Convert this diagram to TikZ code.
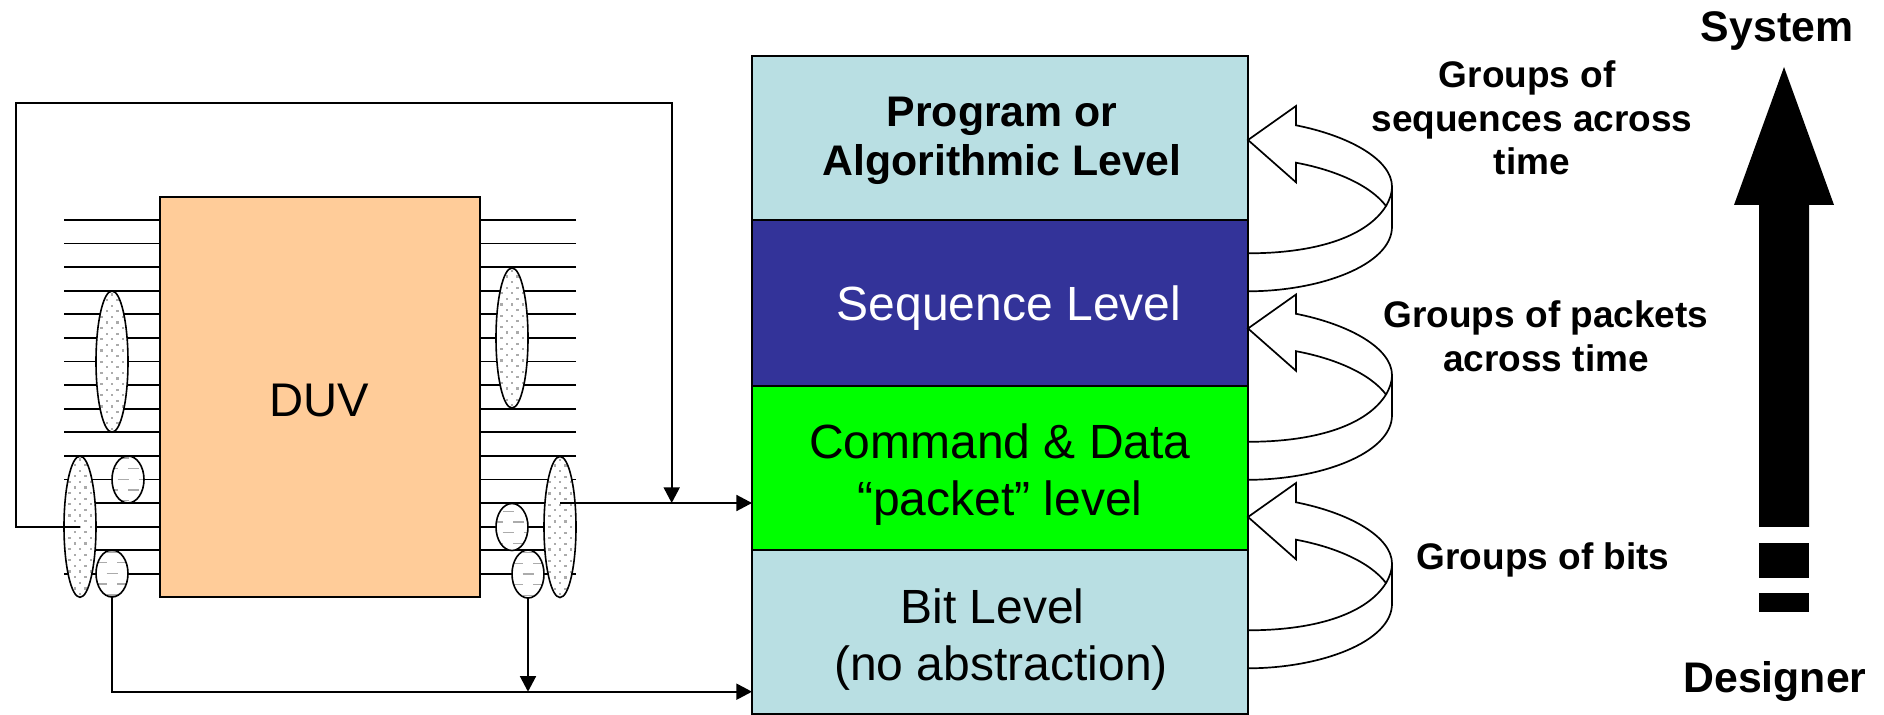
\documentclass[tikz,border=0pt]{standalone}
\usepackage{fontspec}
\setmainfont{Liberation Sans}
\usetikzlibrary{arrows.meta,shapes.geometric,calc}
\definecolor{lvlblue}{HTML}{B9DFE3}
\definecolor{lvlnavy}{HTML}{333399}
\definecolor{lvlgreen}{HTML}{00FF00}
\definecolor{duvorange}{HTML}{FFCC99}
\definecolor{speck}{HTML}{ABABAB}
\tikzset{
  x=0.5pt,y=-0.5pt,
  wire/.style={line width=0.9pt,black},
  conn/.style={line width=0.9pt,black},
  tipped/.style={conn,-{Triangle[length=7.8pt,width=8pt]}},
  level/.style={draw=black,line width=1pt,minimum width=248pt,inner sep=0pt,outer sep=0pt},
  bigell/.style={ellipse,draw=black,fill=white,line width=0.8pt,inner sep=0pt,outer sep=0pt,minimum width=16pt,minimum height=#1,
    path picture={
      \foreach \j in {-14,...,14}{
        \pgfmathsetmacro{\o}{mod(abs(\j),2)*5.33}
        \foreach \i in {-2,...,2}{
          \fill[speck] ([shift={(\i*10.67+\o-1,\j*5.6-1)}]path picture bounding box.center) rectangle +(2.2,2.2);
        }
      }
    }},
  smallell/.style n args={3}{ellipse,draw=black,fill=white,line width=0.8pt,inner sep=0pt,outer sep=0pt,minimum width=16pt,minimum height=#1,
    path picture={
      \foreach \a/\b in {0/0,21.3/0,-21.3/0,10.7/10.7,-10.7/10.7,10.7/-10.7,-10.7/-10.7,0/21.3,0/-21.3,21.3/21.3,-21.3/21.3,21.3/-21.3,-21.3/-21.3}{
        \draw[speck,line width=0.7pt] ([shift={(#2+\a-5.5,#3+\b)}]path picture bounding box.center) -- +(11,0);
      }
    }},
  lbl/.style={align=center,inner sep=0pt,font=\fontsize{24}{28.5}\selectfont},
  blbl/.style={align=center,inner sep=0pt,font=\bfseries\fontsize{21.4}{24.5}\selectfont},
  slbl/.style={align=center,inner sep=0pt,font=\bfseries\fontsize{18.5}{21.8}\selectfont},
  turnarrow/.pic={
    \draw[line width=0.85pt,line join=miter,fill=white] (1248,140) -- (1296,106) -- (1296,125.3)
      .. controls (1350,136) and (1392,160) .. (1392,186.7) -- (1392,226.7)
      .. controls (1392,265) and (1320,291.3) .. (1248,291.3) -- (1248,253.3)
      .. controls (1320,253.3) and (1368,235) .. (1386,206)
      .. controls (1370,185) and (1335,170) .. (1296,162.7) -- (1296,182.3) -- cycle;
    \draw[line width=0.85pt] (1386,206) .. controls (1390,199) and (1392,193) .. (1392,186.7);
  }
}
\begin{document}
\begin{tikzpicture}
\useasboundingbox (0,0) rectangle (1884,715);

% level stack
\node[level,fill=lvlblue,minimum height=82pt] (prog) at (1000,138) {};
\node[level,fill=lvlnavy,minimum height=83pt] (seq) at (1000,303) {};
\node[level,fill=lvlgreen,minimum height=82.5pt] (pkt) at (1000,468.5) {};
\node[level,fill=lvlblue,minimum height=82pt] (bit) at (1000,632) {};

\node[blbl] (tprog) at (1002,141) {Program or\\Algorithmic Level};
\node[lbl,text=white] (tseq) at (1009,308) {Sequence Level};
\node[lbl] (tpkt) at (1000,475) {Command \& Data\\“packet” level};
\node[lbl] (tbit) at (1001,640) {Bit Level\hspace*{8.4pt}\\(no abstraction)};

% DUV and wires
\node[draw=black,line width=1pt,fill=duvorange,minimum width=160pt,minimum height=200pt,inner sep=0pt,outer sep=0pt] (duv) at (320,397) {};
\node[inner sep=0pt,font=\fontsize{23.6}{28}\selectfont] (tduv) at (319,400) {DUV};
\foreach \k in {0,...,15}{
  \coordinate (wl\k) at (64,220+\k*23.6);
  \coordinate (wr\k) at (576,220+\k*23.6);
  \draw[wire] (wl\k) -- (wl\k -| duv.west);
  \draw[wire] (wr\k) -- (wr\k -| duv.east);
}

% bundles
\node[bigell=70.6pt] (eLa) at (112,361.6) {};
\node[bigell=70.6pt] (eLb) at (80,526.7) {};
\node[smallell={23.5pt}{-5}{0}] (eLc) at (128,479.5) {};
\node[smallell={23.5pt}{0}{0}] (eLd) at (112,573.5) {};
\node[bigell=70pt] (eRa) at (512,338) {};
\node[bigell=70.5pt] (eRb) at (560,527) {};
\node[smallell={23.5pt}{-4}{5.7}] (eRc) at (512,527) {};
\node[smallell={24pt}{0}{0}] (eRd) at (528,574) {};

% connectors
\coordinate (tapL) at (80,526.7);
\coordinate (fbA) at (16,526.7);
\coordinate (fbB) at (16,103);
\coordinate (fbC) at (671.7,103);
\coordinate (tapR) at (560,503);
\coordinate (fbD) at (671.7,503);
\coordinate (busB) at (112,691.7);
\draw[tipped] (tapL) -- (fbA) -- (fbB) -- (fbC) -- (fbD);
\draw[tipped] (tapR) -- (tapR -| pkt.west);
\draw[tipped] (eLd.south) |- (busB -| bit.west);
\draw[tipped] (eRd.south) -- (eRd.south |- busB);

% turning arrows
\pic at (0,0) {turnarrow};
\pic at (0,188.5) {turnarrow};
\pic at (0,377) {turnarrow};

\node[slbl] (g1) at (1532,118) {Groups of\hspace*{4.8pt}\\sequences across\\time};
\node[slbl] (g2) at (1546,336) {Groups of packets\\across time};
\node[slbl] (g3) at (1543,560) {Groups of bits};

% big arrow
\fill[black] (1784,67) -- (1834,205) -- (1809,205) -- (1809,527) -- (1759,527) -- (1759,205) -- (1734,205) -- cycle;
\fill[black] (1759,543) rectangle (1809,578);
\fill[black] (1759,593) rectangle (1809,612);
\node[blbl] (sys) at (1777,31) {System};
\node[blbl] (des) at (1775,682) {Designer};
\end{tikzpicture}
\end{document}
